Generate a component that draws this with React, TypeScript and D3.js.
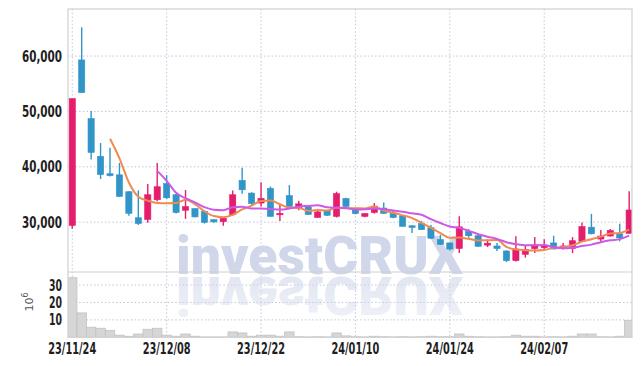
import * as d3 from "d3";
import {useRef, useEffect} from "react";

// trading days, 23/11/24 .. 24/02/22
const dates = [
  "23/11/24", "23/11/27", "23/11/28", "23/11/29", "23/11/30",
  "23/12/01", "23/12/04", "23/12/05", "23/12/06", "23/12/07",
  "23/12/08", "23/12/11", "23/12/12", "23/12/13", "23/12/14",
  "23/12/15", "23/12/18", "23/12/19", "23/12/20", "23/12/21",
  "23/12/22", "23/12/26", "23/12/27", "23/12/28", "24/01/02",
  "24/01/03", "24/01/04", "24/01/05", "24/01/08", "24/01/09",
  "24/01/10", "24/01/11", "24/01/12", "24/01/15", "24/01/16",
  "24/01/17", "24/01/18", "24/01/19", "24/01/22", "24/01/23",
  "24/01/24", "24/01/25", "24/01/26", "24/01/29", "24/01/30",
  "24/01/31", "24/02/01", "24/02/02", "24/02/05", "24/02/06",
  "24/02/07", "24/02/08", "24/02/13", "24/02/14", "24/02/15",
  "24/02/16", "24/02/19", "24/02/20", "24/02/21", "24/02/22",
];

const opens = [
  29400, 59300, 48700, 41900, 38750, 38550, 35500, 30800, 30500, 34050,
  36950, 34950, 32150, 32450, 31950, 30450, 30100, 31350, 37550, 35250,
  33450, 36100, 31350, 34800, 32500, 32750, 30850, 32150, 31050, 34250,
  32450, 31050, 31750, 32550, 31600, 31150, 29350, 29750, 29000, 26850,
  26250, 25250, 28300, 27550, 25850, 25700, 24800, 23050, 24200, 25250,
  25400, 26250, 25350, 25250, 26550, 29100, 26950, 27500, 27900, 28000,
];
const highs = [
  52300, 65200, 50100, 44300, 43450, 40700, 35600, 35750, 36900, 40700,
  38500, 35100, 35800, 32500, 32100, 30500, 30800, 35700, 39850, 35400,
  37200, 36450, 33200, 36700, 33850, 32900, 32400, 32200, 35500, 34400,
  32600, 31600, 33450, 33550, 32150, 31200, 29400, 30200, 29500, 27700,
  26300, 31050, 28750, 27900, 26850, 26250, 24900, 27450, 25700, 27300,
  26900, 27550, 26250, 27300, 29950, 31500, 28600, 28750, 29700, 35600,
];
const lows = [
  28800, 53400, 41300, 37800, 38250, 34600, 31150, 29500, 29900, 33800,
  34200, 31550, 30600, 30900, 29750, 29900, 29350, 31200, 35150, 33150,
  32850, 31000, 30200, 32700, 32150, 31300, 30800, 31100, 30850, 32800,
  31400, 30900, 31550, 31500, 30700, 29200, 28050, 28600, 27000, 25900,
  24900, 24450, 27200, 25500, 25500, 24800, 22800, 22900, 23600, 24450,
  24950, 25100, 25050, 24400, 26400, 27800, 26450, 27400, 26550, 27900,
];
const closes = [
  52300, 53400, 42600, 38600, 38400, 34650, 31600, 29750, 34950, 36400,
  34400, 31750, 32800, 30950, 29950, 30050, 30700, 34950, 35850, 33350,
  34300, 31050, 31600, 32850, 33300, 31400, 31850, 31250, 35150, 32850,
  31550, 31550, 32900, 31600, 30850, 29250, 29050, 28650, 27100, 26000,
  25150, 29150, 27550, 25650, 26200, 25250, 23050, 25150, 25050, 25900,
  25700, 25150, 25700, 26650, 29200, 27900, 27500, 28500, 27150, 32200,
];
// volume, millions of shares
const volumes = [
  34.2, 14.0, 5.8, 5.2, 4.0, 1.2, 0.6, 1.9, 4.6, 5.2,
  1.2, 0.6, 1.9, 0.6, 0.2, 0.2, 0.2, 3.1, 2.5, 0.6,
  1.2, 1.2, 0.6, 3.1, 0.3, 0.2, 0.3, 0.2, 2.5, 0.8,
  0.3, 0.2, 0.6, 0.3, 0.2, 0.3, 0.2, 0.3, 0.6, 0.3,
  0.3, 1.9, 0.6, 0.3, 0.2, 0.2, 0.3, 1.2, 0.6, 0.6,
  0.2, 0.3, 0.2, 0.6, 1.9, 1.9, 0.3, 0.2, 0.6, 9.6,
];

const priceTicks = [30000, 40000, 50000, 60000];
const volumeTicks = [10, 20, 30];
const dateTicks = [0, 10, 20, 30, 40, 50];
const maPeriods = [5, 10];

const App = () => {
  const container = useRef(null);

  useEffect(() => {
    const width = 642, height = 366;
    const left = 68, right = 632, top = 9, mid = 272, bottom = 337.3;
    const upColor = "#e61c6c", downColor = "#3195c8";
    const maColors = ["#ef8a52", "#cc5ae6"];
    const gridColor = "#bfc6da";
    const labelFont = "'DejaVu Sans', sans-serif";

    d3.select(container.current).selectAll("*").remove();
    const svg = d3.select(container.current)
      .append("svg")
      .attr("width", width)
      .attr("height", height)
      .style("display", "block")
      .style("background", "#fff");

    const idx = d3.range(dates.length);
    const x = d3.scaleLinear().domain([-0.45, 59.3]).range([left, right]);
    const y = d3.scaleLinear().domain([21000, 68500]).range([mid, top]);
    const yv = d3.scaleLinear().domain([0, 37.5]).range([bottom, mid]);
    const step = x(1) - x(0);

    svg.append("clipPath").attr("id", "clip-main")
      .append("rect").attr("x", left).attr("y", top).attr("width", right - left).attr("height", mid - top);
    svg.append("clipPath").attr("id", "clip-vol")
      .append("rect").attr("x", left).attr("y", mid).attr("width", right - left).attr("height", bottom - mid);

    // grid
    const grid = svg.append("g").attr("stroke", gridColor).attr("stroke-dasharray", "1.5,2.2").attr("stroke-width", 1);
    grid.selectAll(".hp").data(priceTicks).join("line")
      .attr("x1", left).attr("x2", right).attr("y1", d => y(d)).attr("y2", d => y(d));
    grid.selectAll(".hv").data(volumeTicks).join("line")
      .attr("x1", left).attr("x2", right).attr("y1", d => yv(d)).attr("y2", d => yv(d));
    grid.selectAll(".v").data(dateTicks).join("line")
      .attr("x1", d => x(d)).attr("x2", d => x(d)).attr("y1", top).attr("y2", bottom);

    // watermark with reflection
    const grad = svg.append("linearGradient").attr("id", "fade")
      .attr("x1", 0).attr("y1", 0).attr("x2", 0).attr("y2", 1);
    grad.append("stop").attr("offset", "0%").attr("stop-color", "#d0d7ea").attr("stop-opacity", 0.3);
    grad.append("stop").attr("offset", "100%").attr("stop-color", "#d0d7ea").attr("stop-opacity", 0.7);
    const wm = svg.append("g").attr("font-family", "Roboto, 'DejaVu Sans', sans-serif").attr("font-weight", 900).attr("font-size", 54);
    wm.append("text").attr("x", 176).attr("y", 274)
      .attr("textLength", 287).attr("lengthAdjust", "spacingAndGlyphs")
      .attr("fill", "#d0d7ea").text("investCRUX");
    wm.append("text").attr("x", 176).attr("y", 274)
      .attr("transform", "translate(0,551) scale(1,-1)")
      .attr("textLength", 287).attr("lengthAdjust", "spacingAndGlyphs")
      .attr("fill", "url(#fade)").text("investCRUX");

    // volume bars
    svg.append("g").attr("clip-path", "url(#clip-vol)")
      .selectAll("rect").data(idx).join("rect")
      .attr("x", i => x(i) - step / 2)
      .attr("width", step)
      .attr("y", i => yv(volumes[i]))
      .attr("height", i => yv(0) - yv(volumes[i]))
      .attr("fill", "#d6d6d6")
      .attr("stroke", "#c2c2c2")
      .attr("stroke-width", 0.8);

    // candles
    const main = svg.append("g").attr("clip-path", "url(#clip-main)");
    const candle = main.append("g").selectAll("g").data(idx).join("g")
      .attr("fill", i => closes[i] >= opens[i] ? upColor : downColor)
      .attr("stroke", i => closes[i] >= opens[i] ? upColor : downColor);
    candle.append("line")
      .attr("x1", i => x(i)).attr("x2", i => x(i))
      .attr("y1", i => y(highs[i])).attr("y2", i => y(lows[i]))
      .attr("stroke-width", 1.4);
    candle.append("rect")
      .attr("x", i => x(i) - 3.1)
      .attr("width", 6.2)
      .attr("y", i => y(Math.max(opens[i], closes[i])))
      .attr("height", i => Math.max(1.5, Math.abs(y(opens[i]) - y(closes[i]))))
      .attr("stroke-width", 0.6);

    // moving averages of the close
    maPeriods.forEach((p, k) => {
      const pts = idx.filter(i => i >= p - 1).map(i => [i, d3.mean(closes.slice(i - p + 1, i + 1))]);
      main.append("path")
        .attr("d", d3.line().x(d => x(d[0])).y(d => y(d[1])).curve(d3.curveMonotoneX)(pts))
        .attr("fill", "none")
        .attr("stroke", maColors[k])
        .attr("stroke-width", 2);
    });

    // frame
    const frame = svg.append("g").attr("stroke", "#d0d0d0").attr("stroke-width", 1.2).attr("fill", "none");
    frame.append("rect").attr("x", left).attr("y", top).attr("width", right - left).attr("height", bottom - top);
    frame.append("line").attr("x1", left).attr("x2", right).attr("y1", mid).attr("y2", mid);

    // labels, squeezed to the condensed look of the original
    const labels = svg.append("g").attr("font-family", labelFont).attr("font-weight", "bold")
      .attr("font-size", 15).attr("fill", "#1e1e1e");
    labels.selectAll(".py").data(priceTicks).join("text")
      .attr("x", 62).attr("y", d => y(d) + 5.5).attr("text-anchor", "end")
      .attr("textLength", 40).attr("lengthAdjust", "spacingAndGlyphs")
      .text(d => d3.format(",")(d));
    labels.selectAll(".vy").data(volumeTicks).join("text")
      .attr("x", 62).attr("y", d => yv(d) + 5.5).attr("text-anchor", "end")
      .attr("textLength", 13).attr("lengthAdjust", "spacingAndGlyphs")
      .text(d => d);
    labels.selectAll(".dx").data(dateTicks).join("text")
      .attr("x", i => x(i)).attr("y", 354).attr("text-anchor", "middle")
      .attr("textLength", 48).attr("lengthAdjust", "spacingAndGlyphs")
      .text(i => dates[i]);

    const unit = svg.append("text")
      .attr("transform", "translate(33,302) rotate(-90)")
      .attr("text-anchor", "middle")
      .attr("font-family", "'DejaVu Sans', sans-serif")
      .attr("font-size", 11)
      .attr("fill", "#555");
    unit.append("tspan").text("10");
    unit.append("tspan").attr("dy", -5).attr("font-size", 8).text("6");
  }, []);

  return <div ref={container} style={{position: "absolute", left: 0, top: 0}}></div>;
};

export default App;
